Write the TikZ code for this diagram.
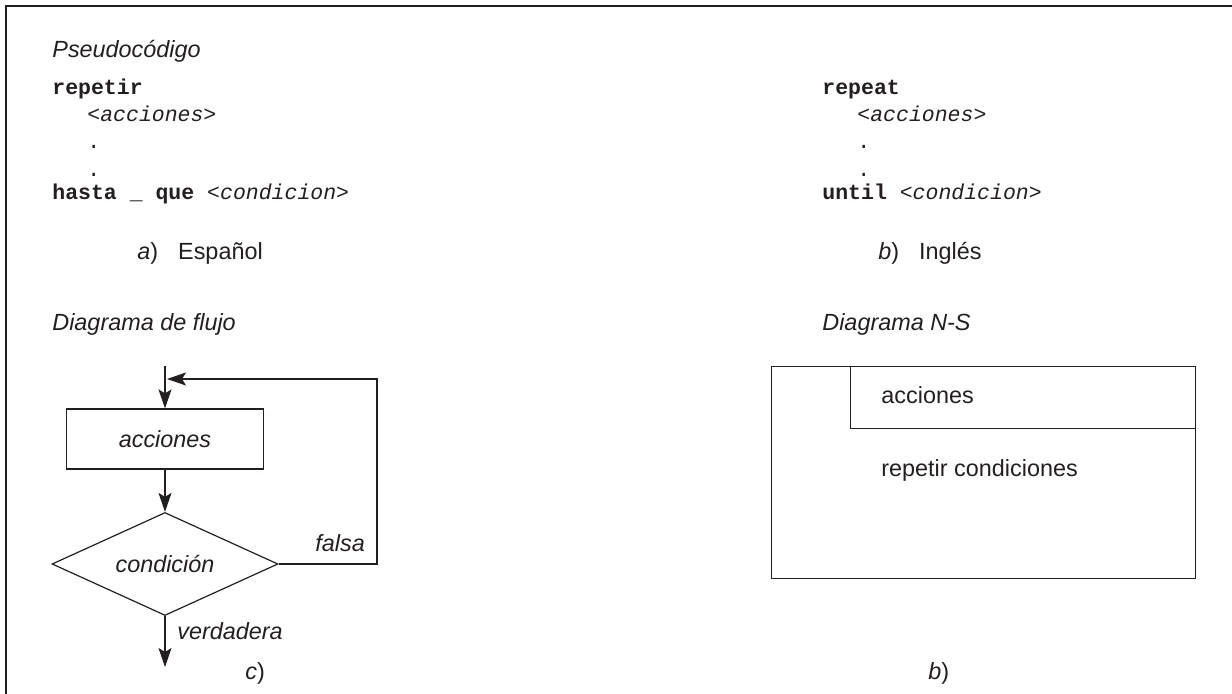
\documentclass[tikz,border=0pt]{standalone}
\usepackage{fontspec}
\setmainfont{Liberation Sans}
\setmonofont{Liberation Mono}
\usetikzlibrary{arrows.meta,shapes.geometric}
\definecolor{tinta}{RGB}{35,31,32}

\begin{document}
\begin{tikzpicture}[x=0.5pt,y=-0.5pt,
    every node/.style={inner sep=0pt,text=tinta,font=\fontsize{11.7}{14}\selectfont},
    texto/.style={anchor=base west},
    codigo/.style={anchor=base west,font=\fontsize{10.75}{13}\selectfont\ttfamily},
    caja/.style={draw=tinta,line width=0.6pt,minimum width=98.5pt,minimum height=30pt,font=\fontsize{11.7}{14}\selectfont\itshape},
    rombo/.style={draw=tinta,line width=0.6pt,diamond,aspect=2.2,minimum width=113pt,minimum height=51.5pt,font=\fontsize{11.7}{14}\selectfont\itshape},
    flecha/.style={draw=tinta,line width=0.6pt,-{Stealth[length=9.5pt,width=6.5pt,inset=2pt]}},
    linea/.style={draw=tinta,line width=0.6pt}]

    \useasboundingbox (0,0) rectangle (1232,694);
    \draw[tinta,line width=1pt] (6,694) -- (6,6) -- (1232,6);

    % pseudocodigo
    \node[texto] (titpseudo) at (52,58) {\itshape Pseudocódigo};

    \node[codigo] (repetir) at (52,95) {\bfseries repetir};
    \node[codigo] (accA) at (87,122) {\itshape <acciones>};
    \node[codigo] (puntoA1) at (87,149) {.};
    \node[codigo] (puntoA2) at (87,177) {.};
    \node[codigo] (hasta) at (52,200) {\textbf{hasta \_ que} \textit{<condicion>}};
    \node[texto] (capa) at (137,260) {\textit{a})\hspace{10pt}Español};

    \node[codigo] (repeat) at (822,95) {\bfseries repeat};
    \node[codigo] (accB) at (857,122) {\itshape <acciones>};
    \node[codigo] (puntoB1) at (857,149) {.};
    \node[codigo] (puntoB2) at (857,177) {.};
    \node[codigo] (until) at (822,200) {\textbf{until} \textit{<condicion>}};
    \node[texto] (capb) at (878,260) {\textit{b})\hspace{10pt}Inglés};

    % diagrama de flujo
    \node[texto] (titflujo) at (52,331) {\itshape Diagrama de flujo};
    \coordinate (entrada) at (165,366);
    \node[caja] (acc) at (165,439) {acciones};
    \node[rombo] (cond) at (165,564) {condición};
    \coordinate (vuelta) at (377,379);
    \coordinate (union) at (167,379);
    \coordinate (salida) at (165,667);

    \draw[flecha] (entrada) -- (acc.north);
    \draw[flecha] (acc.south) -- (cond.north);
    \draw[flecha] (cond.east) -| (vuelta) -- (union);
    \draw[flecha] (cond.south) -- (salida);
    \node[texto] (falsa) at (315,552) {\itshape falsa};
    \node[texto] (verdadera) at (177,640) {\itshape verdadera};
    \node[texto] (capc) at (245,680) {\itshape c\/\upshape)};

    % diagrama N-S
    \node[texto] (titns) at (822,331) {\itshape Diagrama N-S};
    \node[linea,anchor=north west,minimum width=212pt,minimum height=106pt] (ns) at (771,366) {};
    \node[linea,anchor=north east,minimum width=172.5pt,minimum height=31pt] (nsacc) at (ns.north east) {};
    \node[texto] (txtacc) at (881,404) {acciones};
    \node[texto] (txtrep) at (881,477) {repetir condiciones};
    \node[texto] (capd) at (928,680) {\textit{b})};

\end{tikzpicture}
\end{document}
